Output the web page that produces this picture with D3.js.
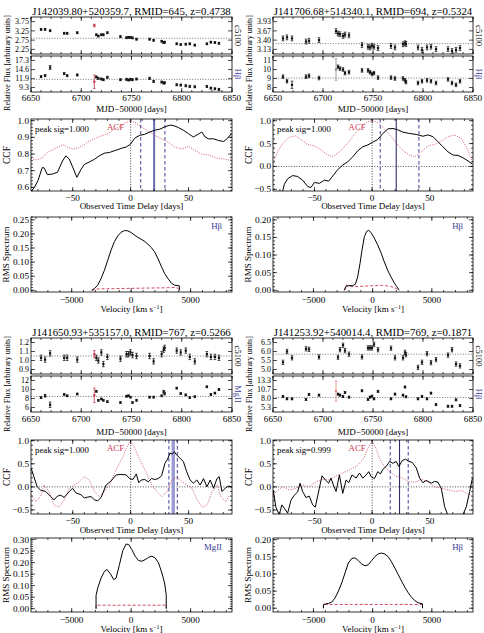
<!DOCTYPE html>
<html><head><meta charset="utf-8">
<script src="https://cdn.jsdelivr.net/npm/d3@7"></script>
<style>
body{margin:0;background:#fff}
svg{display:block}
text{font-family:"Liberation Serif","Times New Roman",serif;fill:#000}
</style></head>
<body><svg id="c" width="484" height="633"></svg>
<script>
// ---------------- DATA ----------------
const epochs=[6660,6664,6669,6683,6686,6696,6715,6717,6720,6722,6726,6739,6745,6747,6749,6751,6755,6768,6772,6780,6782,6783,6795,6799,6804,6808,6813,6825,6829,6833,6837];
const mjdTicks=[6650,6700,6750,6800,6850];

// Quadrant A : RMID 645
const aTitle="J142039.80+520359.7, RMID=645, z=0.4738";
const aContTicks=[2.25,2.75,3.25,3.75], aContLabels=["2.25","2.75","3.25","3.75"];
const aCont=[3.33,3.33,3.26,3.12,3.12,3.15,3.04,2.97,3.04,3.04,3.15,2.94,2.88,2.90,2.90,2.87,2.80,2.80,2.74,2.69,2.62,2.64,2.55,2.51,2.53,2.55,2.48,2.55,2.64,2.62,2.58];
const aContErr=[0.05,0.05,0.05,0.05,0.05,0.05,0.05,0.05,0.05,0.05,0.05,0.05,0.05,0.05,0.05,0.05,0.05,0.05,0.05,0.05,0.05,0.05,0.05,0.05,0.05,0.05,0.05,0.05,0.05,0.05,0.05];
const aContSpecial=[6713,3.54,0.07];
const aContMean=2.85;
const aLineTicks=[9.3,11.9,14.6,17.3], aLineLabels=["9.3","11.9","14.6","17.3"];
const aLine=[12.5,12.8,15.2,13.4,12.8,13.0,12.4,12.0,11.8,11.6,12.3,11.6,11.7,11.5,11.7,11.6,11.8,12.0,11.1,10.9,10.6,10.7,10.1,10.0,9.8,9.6,9.5,9.6,9.1,8.9,8.7];
const aLineErr=[0.3,0.3,0.6,0.3,0.3,0.3,0.3,0.3,0.3,0.3,0.3,0.3,0.3,0.3,0.3,0.3,0.3,0.3,0.3,0.3,0.3,0.3,0.3,0.3,0.3,0.3,0.3,0.3,0.3,0.3,0.3];
const aLineSpecial=[6713,11.0,2.0];
const aLineMean=11.7;
const aCcfLag=[-86,-83,-80,-78.3,-76.2,-74.5,-71.9,-67.5,-63.2,-58.8,-55.9,-53,-50.1,-46.4,-42.9,-40,-35.7,-31.3,-27,-22.6,-18.3,-13.9,-11,-8.1,-3.8,0,3.5,7.8,12.2,16.5,20.9,25.2,29.6,33.9,36.8,41.2,45.5,49.9,54.2,58.6,61.4,64.3,67.2,71.6,75.9,80.3,83.2,87];
const aCcf=[0.575,0.60,0.64,0.676,0.72,0.715,0.676,0.68,0.69,0.758,0.789,0.77,0.723,0.66,0.707,0.737,0.752,0.768,0.789,0.805,0.809,0.82,0.826,0.834,0.842,0.86,0.895,0.912,0.918,0.932,0.943,0.949,0.963,0.973,0.971,0.959,0.943,0.922,0.902,0.92,0.932,0.902,0.891,0.891,0.881,0.875,0.891,0.922];
const aAcfLag=[-86,-80.6,-76,-71.9,-66.1,-60.3,-57.4,-54.5,-50.1,-45.8,-41.4,-37.1,-31.3,-25.5,-19.7,-13.9,-9.6,-5.2,0,4.9,9.3,15.1,20.9,26.7,32.5,38.3,44.1,49.9,55.7,61.4,67.2,73,78.8,84.6,87];
const aAcf=[0.772,0.764,0.78,0.81,0.83,0.85,0.855,0.84,0.83,0.835,0.85,0.871,0.891,0.908,0.922,0.949,0.963,0.984,1.0,0.984,0.963,0.936,0.912,0.891,0.871,0.84,0.83,0.846,0.82,0.8,0.795,0.778,0.772,0.764,0.768];
const aLag=[8.7,20.3,29.6];
const aRmsVel=[-3315,-3090,-2809,-2528,-2247,-1966,-1685,-1404,-1124,-843,-562,-281,0,281,562,843,1124,1404,1685,1966,2247,2528,2809,3090,3371,3652,3933,4050,4060];
const aRms=[0,0.006,0.018,0.042,0.071,0.107,0.143,0.173,0.193,0.206,0.212,0.211,0.205,0.196,0.188,0.181,0.174,0.164,0.152,0.137,0.113,0.086,0.06,0.042,0.026,0.018,0.017,0.016,0];
const aRmsErrVel=[-3315,-2809,-1500,0,1500,3000,3652,3933,4060];
const aRmsErr=[0,0.005,0.006,0.007,0.008,0.009,0.010,0.008,0];

// Quadrant B : RMID 694
const bTitle="J141706.68+514340.1, RMID=694, z=0.5324";
const bContTicks=[3.133,3.40,3.667,3.933], bContLabels=["3.13","3.40","3.67","3.93"];
const bCont=[3.45,3.48,3.45,3.36,3.38,3.40,3.59,3.57,3.52,3.56,3.54,3.26,3.21,3.19,3.24,3.21,3.17,3.23,3.19,3.28,3.31,3.29,3.19,3.12,3.19,3.21,3.14,3.14,3.09,3.12,3.17];
const bContErr=[0.07,0.07,0.07,0.07,0.07,0.07,0.07,0.07,0.07,0.07,0.07,0.07,0.07,0.07,0.07,0.07,0.07,0.07,0.07,0.07,0.07,0.07,0.07,0.07,0.07,0.07,0.07,0.07,0.07,0.07,0.07];
const bContSpecial=[6713,3.66,0.07];
const bContMean=3.30;
const bLineTicks=[8,9,10,11], bLineLabels=["8","9","10","11"];
const bLine=[9.2,8.7,8.3,9.2,9.3,9.05,10.3,10.1,10.0,9.6,9.7,9.9,9.9,9.7,9.5,9.6,9.1,9.1,9.0,9.0,8.8,8.6,8.5,8.7,8.8,8.7,8.5,8.9,8.5,8.3,8.7];
const bLineErr=[0.2,0.2,0.4,0.2,0.2,0.2,0.2,0.2,0.2,0.2,0.2,0.2,0.2,0.2,0.2,0.2,0.2,0.2,0.2,0.2,0.2,0.2,0.2,0.2,0.2,0.2,0.2,0.2,0.2,0.2,0.2];
const bLineSpecial=[6713,10.0,1.2];
const bLineMean=9.05;
const bCcfLag=[-78.3,-76.2,-73.3,-69,-64.6,-60.3,-55.9,-53,-50.1,-45.8,-41.4,-37.6,-34.2,-29.9,-25.5,-21.2,-16.8,-12.5,-8.1,-3.8,0.6,4.9,9.3,13.6,18,22.3,26.7,32.5,38.3,44.1,48.4,52.8,57.1,61.4,65.8,70.1,74.5,78.8,83.2,87];
const bCcf=[-0.61,-0.39,-0.27,-0.2,-0.22,-0.3,-0.44,-0.46,-0.35,-0.37,-0.30,-0.32,-0.21,-0.07,0.03,0.10,0.21,0.34,0.43,0.47,0.53,0.59,0.72,0.82,0.83,0.80,0.75,0.72,0.70,0.66,0.69,0.65,0.54,0.43,0.32,0.25,0.24,0.19,0.12,0.05];
const bAcfLag=[-86,-82,-77.7,-71.9,-66.1,-61.7,-55.9,-50.1,-44.3,-38.6,-34.2,-28.4,-22.6,-16.8,-11,-5.2,0,4.9,10.7,16.5,22.3,28.1,32.5,36.8,42.6,48.4,54.2,60,65.8,71.6,77.4,81.7,87.5];
const bAcf=[0.07,0.32,0.50,0.64,0.67,0.58,0.48,0.45,0.36,0.25,0.21,0.32,0.47,0.65,0.82,0.96,1.0,0.96,0.82,0.65,0.47,0.32,0.25,0.21,0.32,0.45,0.48,0.55,0.65,0.69,0.61,0.43,0.07];
const bLag=[7,20.9,40.6];
const bRmsVel=[-2388,-2247,-2022,-1685,-1461,-1264,-1067,-899,-702,-506,-337,-140,140,421,702,983,1264,1545,1826,2022,2247];
const bRms=[0,0.011,0.013,0.013,0.017,0.038,0.076,0.114,0.152,0.167,0.170,0.164,0.148,0.129,0.107,0.081,0.057,0.038,0.021,0.011,0];
const bRmsErrVel=[-2388,-2247,-1800,-1000,0,850,1500,2000,2247];
const bRmsErr=[0,0.015,0.010,0.011,0.013,0.014,0.011,0.005,0];

// Quadrant C : RMID 767
const cTitle="J141650.93+535157.0, RMID=767, z=0.5266";
const cContTicks=[0.9,1.0,1.1,1.2], cContLabels=["0.9","1.0","1.1","1.2"];
const cCont=[1.03,1.01,1.08,1.03,1.03,1.01,1.03,1.00,1.09,0.96,1.04,1.02,1.07,1.07,1.09,1.06,1.05,1.05,0.99,1.07,1.12,1.14,1.11,1.09,1.11,1.04,0.99,1.07,1.04,1.04,1.03];
const cContErr=[0.03,0.03,0.03,0.03,0.03,0.03,0.03,0.03,0.03,0.03,0.03,0.03,0.03,0.03,0.03,0.03,0.03,0.03,0.03,0.03,0.03,0.03,0.03,0.03,0.03,0.03,0.03,0.03,0.03,0.03,0.03];
const cContSpecial=[6713,1.07,0.04];
const cContMean=1.05;
const cLineTicks=[6,8,10,12], cLineLabels=["6","8","10","12"];
const cLine=[8.2,8.6,6.6,8.9,8.6,9.0,9.6,7.6,7.9,7.6,7.3,7.1,8.5,8.6,8.3,7.1,7.6,8.3,8.3,8.6,9.5,9.1,10.3,9.1,8.8,8.2,8.4,10.6,8.9,9.2,10.0];
const cLineErr=[0.2,0.3,0.6,0.2,0.2,0.2,0.2,0.2,0.2,0.2,0.2,0.2,0.2,0.2,0.2,0.2,0.2,0.2,0.2,0.2,0.3,0.3,0.2,0.2,0.2,0.2,0.2,0.2,0.2,0.2,0.2];
const cLineSpecial=[6713,8.7,1.6];
const cLineMean=8.45;
const cCcfLag=[-85.8,-83.5,-80.6,-77.7,-73.3,-69,-66.1,-63.2,-60.3,-57.4,-53,-50.1,-47.2,-42.9,-40,-37.1,-34.2,-31.3,-28.4,-25.5,-21.2,-16.8,-12.5,-8.1,-3.8,-0.9,2,4.9,7,9.3,12.2,15.1,18,20.9,23.8,26.7,29.6,31.9,33.9,35.9,37.7,39.7,42.6,45.5,48.4,51.3,54.2,57.1,60,62.9,65.8,68.7,71.6,74.5,76.5,78.8,81.7,84.6,87];
const cCcf=[0.40,0.22,0.0,-0.07,-0.10,-0.21,-0.28,-0.20,-0.18,-0.23,-0.10,-0.03,-0.13,-0.17,-0.24,-0.22,-0.21,-0.28,-0.30,-0.23,0.04,0.13,0.26,0.27,0.26,0.18,0.16,0.28,0.09,0.15,0.16,0.11,0.18,0.16,0.18,0.24,0.51,0.60,0.73,0.71,0.76,0.69,0.62,0.55,0.33,0.15,0.08,0.15,0.04,0.18,0.0,0.15,-0.03,0.18,0.22,-0.10,-0.03,0.02,0.0];
const cAcfLag=[-85.8,-82,-77.7,-74.8,-70.4,-66.1,-61.7,-57.4,-53,-48.7,-44.3,-40,-35.7,-31.3,-27,-22.6,-18.3,-13.9,-9.6,-6.7,-3.8,0,3.8,6.7,9.6,13.9,18.3,22.6,27,31.3,35.7,40,44.3,48.7,53,57.4,61.7,66.1,70.4,74.8,77.7,82,85.8];
const cAcf=[-0.17,-0.32,-0.21,0.04,-0.10,-0.39,-0.44,-0.28,-0.03,0.04,0.11,0.22,0.15,-0.10,-0.21,-0.10,0.04,0.29,0.51,0.65,0.83,1.0,0.83,0.65,0.51,0.29,0.04,-0.10,-0.21,-0.10,0.15,0.22,0.11,0.04,-0.03,-0.28,-0.44,-0.39,-0.10,0.04,-0.21,-0.32,-0.17];
const cLag=[33,36.8,40.3];
const cRmsVel=[-2950,-2950,-2809,-2528,-2247,-2022,-1742,-1461,-1264,-983,-702,-421,-197,56,337,618,899,1180,1461,1742,2022,2303,2584,2809,2950,2950];
const cRms=[0,0.058,0.09,0.133,0.162,0.170,0.151,0.126,0.133,0.191,0.252,0.281,0.278,0.257,0.228,0.209,0.206,0.213,0.223,0.228,0.22,0.199,0.155,0.112,0.061,0];
const cRmsErrVel=[-2950,-2950,-1500,0,1500,2950,2950];
const cRmsErr=[0,0.015,0.015,0.015,0.015,0.015,0];

// Quadrant D : RMID 769
const dTitle="J141253.92+540014.4, RMID=769, z=0.1871";
const dContTicks=[5.0,5.5,6.0,6.5], dContLabels=["5.0","5.5","6.0","6.5"];
const dCont=[5.40,6.0,5.65,6.15,6.12,5.70,5.68,6.1,6.35,6.05,5.85,5.70,6.2,6.2,6.2,6.4,6.1,6.18,5.65,5.65,5.95,5.82,5.12,5.40,5.88,5.38,5.55,5.80,6.1,5.30,5.20];
const dContErr=[0.12,0.12,0.12,0.12,0.12,0.12,0.12,0.12,0.12,0.12,0.12,0.12,0.12,0.12,0.12,0.12,0.12,0.12,0.12,0.12,0.12,0.12,0.12,0.12,0.12,0.12,0.12,0.12,0.12,0.12,0.12];
const dContSpecial=null;
const dContMean=5.85;
const dLineTicks=[5.333,8.0,10.667,13.333], dLineLabels=["5.3","8.0","10.7","13.3"];
const dLine=[8.6,7.9,7.9,7.7,9.2,9.0,9.3,9.0,8.6,9.8,8.4,10.3,7.7,8.4,8.7,7.9,10.1,7.9,9.3,9.0,11.4,8.5,7.9,8.6,7.9,9.6,6.2,5.7,5.7,7.6,5.9];
const dLineErr=[0.3,0.3,0.3,0.3,0.3,0.3,0.3,0.3,0.3,0.3,0.3,0.3,0.3,0.3,0.3,0.3,0.3,0.3,0.3,0.3,0.3,0.3,0.3,0.3,0.3,0.3,0.3,0.3,0.3,0.3,0.3];
const dLineSpecial=[6713,10.2,3.0];
const dLineMean=8.3;
const dCcfLag=[-85.8,-83.5,-80.6,-78.3,-76.2,-73.3,-70.4,-67.5,-64.6,-62.6,-60.3,-57.4,-54.5,-51.6,-49.3,-45.8,-43.5,-40.6,-37.7,-35.7,-33.6,-31.3,-28.4,-25.5,-22.6,-20.3,-17.4,-13.9,-11,-8.1,-5.2,-2.9,-0.9,2,4.9,7.2,9.3,12.2,15.1,18,20.9,23.2,26.1,29,31.9,34.8,38.3,41.2,44.1,47,51.3,54.2,57.1,60,62.9,65.8,70,75,78.8,81.7,84.6,87];
const dCcf=[-0.07,-0.44,-0.6,-0.39,-0.46,-0.57,-0.29,-0.18,-0.11,0.08,-0.10,-0.23,-0.2,-0.39,-0.44,-0.03,0.24,0.15,0.08,0.19,0.04,-0.10,0.26,-0.14,0.15,0.09,0.26,0.19,0.30,0.19,0.26,0.33,0.22,0.18,0.33,0.28,0.38,0.44,0.55,0.51,0.55,0.44,0.57,0.60,0.55,0.53,0.41,0.19,0.09,0.14,0.08,0.12,0.10,-0.03,-0.43,-0.62,-0.65,-0.65,-0.6,-0.43,-0.10,0.19];
const dAcfLag=[-85.8,-82,-77.7,-71.9,-66.1,-60.3,-54.5,-48.7,-42.9,-37.1,-31.3,-25.5,-19.7,-13.9,-9.6,-6.7,-3.8,0,3.8,6.7,9.6,13.9,19.7,25.5,31.3,37.1,42.9,48.7,54.5,60.3,66.1,71.9,77.7,82,85.8];
const dAcf=[-0.17,-0.07,0.0,-0.07,-0.03,0.04,0.0,0.11,0.16,0.15,0.24,0.30,0.37,0.44,0.55,0.65,0.83,1.0,0.80,0.60,0.48,0.36,0.24,0.20,0.12,0.10,0.17,0.10,0.0,-0.03,-0.07,-0.10,-0.08,-0.14,-0.18];
const dLag=[15.7,23.8,31.3];
const dRmsVel=[-4157,-4157,-3736,-3455,-3174,-2893,-2612,-2331,-2050,-1770,-1489,-1208,-927,-646,-365,-84,197,478,759,1040,1320,1601,1882,2163,2444,2725,3006,3287,3568,3848,4213,4213];
const dRms=[0,0.011,0.014,0.018,0.03,0.05,0.074,0.103,0.132,0.145,0.147,0.139,0.129,0.124,0.127,0.139,0.151,0.159,0.161,0.158,0.15,0.135,0.117,0.098,0.079,0.061,0.045,0.032,0.022,0.016,0.013,0];
const dRmsErrVel=[-4157,-4157,0,4213,4213];
const dRmsErr=[0,0.011,0.011,0.011,0];

// ---------------- LAYOUT ----------------
const svg=d3.select("#c");
const RED="#c8384e", NAVY="#2b2b8c", LINECOL="#3b3b96";
const FS=9.2, FSLC=8;
const rowTop={title:14.5,lc1:[17,54],lc2:[56,92],lcTick:101,lcLab:112,ccf:[119,191],ccfTick:200.5,ccfLab:209,rms:[217,292],rmsTick:302.5,rmsLab:312};
const rowBot={title:335.5,lc1:[338,374],lc2:[376,412],lcTick:422,lcLab:435,ccf:[440,514],ccfTick:523.5,ccfLab:533,rms:[538,612],rmsTick:622.5,rmsLab:632};
let clipN=0;
function clip(g,x0,y0,x1,y1){const id="cp"+(clipN++);g.append("clipPath").attr("id",id).append("rect").attr("x",x0).attr("y",y0).attr("width",x1-x0).attr("height",y1-y0);return "url(#"+id+")";}
function frameTicks(g,x,y,xMaj,xMin,yMaj,yMin){
  const [x0,x1]=x.range(),[y1,y0]=y.range();
  g.append("rect").attr("x",x0).attr("y",y0).attr("width",x1-x0).attr("height",y1-y0).attr("fill","none").attr("stroke","#000").attr("stroke-width",0.8);
  const t=g.append("g").attr("stroke","#000").attr("stroke-width",0.7);
  const xd=x.domain(),yd=y.domain();
  const inX=v=>v>=Math.min(...xd)&&v<=Math.max(...xd), inY=v=>v>=Math.min(...yd)&&v<=Math.max(...yd);
  [[xMaj,4],[xMin,2]].forEach(([vs,L])=>vs.filter(inX).forEach(v=>{const p=x(v);t.append("line").attr("x1",p).attr("x2",p).attr("y1",y1).attr("y2",y1-L);t.append("line").attr("x1",p).attr("x2",p).attr("y1",y0).attr("y2",y0+L);}));
  [[yMaj,4],[yMin,2]].forEach(([vs,L])=>vs.filter(inY).forEach(v=>{const p=y(v);t.append("line").attr("y1",p).attr("y2",p).attr("x1",x0).attr("x2",x0+L);t.append("line").attr("y1",p).attr("y2",p).attr("x1",x1).attr("x2",x1-L);}));
}
function xLabels(g,x,vals,fmt,yb){vals.forEach(v=>g.append("text").attr("x",x(v)).attr("y",yb).attr("text-anchor","middle").style("font-size",FS+"px").text(fmt(v)));}
function yLabels(g,y,vals,labs,xr,fs){vals.forEach((v,i)=>g.append("text").attr("x",xr).attr("y",y(v)).attr("dy","0.33em").attr("text-anchor","end").style("font-size",(fs||FS)+"px").text(labs[i]));}
function vText(g,x,y,txt,size,rot,col){g.append("text").attr("transform",`translate(${x},${y}) rotate(${rot})`).attr("text-anchor","middle").attr("dy","0.35em").style("font-size",size+"px").style("fill",col||"#000").text(txt);}
const mfmt=v=>v<0?"\u2212"+Math.abs(v):String(v);
const range=(a,b,s)=>d3.range(a,b+s/2,s);

function lcPanel(g,x,y,ticks,labels,vals,errs,special,mean,rLab,rCol){
  const [x0,x1]=x.range(),[y1,y0]=y.range();
  frameTicks(g,x,y,mjdTicks,range(6650,6850,10),ticks,[]);
  yLabels(g,y,ticks,labels,x0-2,FSLC);
  const c=g.append("g").attr("clip-path",clip(g,x0,y0,x1,y1));
  c.append("line").attr("x1",x0).attr("x2",x1).attr("y1",y(mean)).attr("y2",y(mean)).attr("stroke","#555").attr("stroke-width",0.8).attr("stroke-dasharray","1,1.6");
  const pts=epochs.map((m,i)=>({m,v:vals[i],e:errs[i],col:"#111"}));
  if(special) pts.push({m:special[0],v:special[1],e:special[2],col:special[3]||RED});
  pts.forEach(p=>{
    const px=x(p.m);
    c.append("line").attr("x1",px).attr("x2",px).attr("y1",y(p.v-p.e)).attr("y2",y(p.v+p.e)).attr("stroke",p.col).attr("stroke-width",0.8);
    [p.v-p.e,p.v+p.e].forEach(v=>c.append("line").attr("x1",px-1.3).attr("x2",px+1.3).attr("y1",y(v)).attr("y2",y(v)).attr("stroke",p.col).attr("stroke-width",0.7));
    c.append("rect").attr("x",px-1.1).attr("y",y(p.v)-1.1).attr("width",2.2).attr("height",2.2).attr("fill",p.col);
  });
  vText(g,x1+6,(y0+y1)/2,rLab,8.5,90,rCol);
}

function drawQuad(q){
  const g=svg.append("g"), R=q.row, xl=q.xl, xr=q.xr;
  g.append("text").attr("x",(xl+xr)/2).attr("y",R.title).attr("text-anchor","middle").style("font-size","10.8px").text(q.title);
  const xm=d3.scaleLinear().domain([6650,6850]).range([xl,xr]);
  const y1=d3.scaleLinear().domain(q.cDom).range([R.lc1[1],R.lc1[0]]);
  const y2=d3.scaleLinear().domain(q.lDom).range([R.lc2[1],R.lc2[0]]);
  lcPanel(g,xm,y1,q.cT,q.cL,q.cont,q.contErr,q.cSp,q.cMean,"c5100","#000");
  lcPanel(g,xm,y2,q.lT,q.lL,q.line,q.lineErr,q.lSp,q.lMean,q.lineName,LINECOL);
  xLabels(g,xm,mjdTicks,String,R.lcTick);
  g.append("text").attr("x",(xl+xr)/2).attr("y",R.lcLab).attr("text-anchor","middle").style("font-size","9px").text("MJD\u221250000 [days]");
  vText(g,xl-24,R.lc1[0]+46,"Relative Flux [arbitrary units]",8,-90);

  // CCF
  const xc=d3.scaleLinear().domain([-86,87.5]).range([xl,xr]);
  const yc=d3.scaleLinear().domain(q.ccfDom).range([R.ccf[1],R.ccf[0]]);
  const cc=g.append("g").attr("clip-path",clip(g,xl,R.ccf[0],xr,R.ccf[1]));
  const yd=q.ccfDom;
  if(yd[0]<0) cc.append("line").attr("x1",xl).attr("x2",xr).attr("y1",yc(0)).attr("y2",yc(0)).attr("stroke","#000").attr("stroke-width",0.7).attr("stroke-dasharray","1,1.6");
  cc.append("line").attr("x1",xc(0)).attr("x2",xc(0)).attr("y1",R.ccf[0]).attr("y2",R.ccf[1]).attr("stroke","#000").attr("stroke-width",0.7).attr("stroke-dasharray","1,1.6");
  [q.lag[0],q.lag[2]].forEach(l=>cc.append("line").attr("x1",xc(l)).attr("x2",xc(l)).attr("y1",R.ccf[0]).attr("y2",R.ccf[1]).attr("stroke",NAVY).attr("stroke-width",0.9).attr("stroke-dasharray","3.5,2.5"));
  cc.append("line").attr("x1",xc(q.lag[1])).attr("x2",xc(q.lag[1])).attr("y1",R.ccf[0]).attr("y2",R.ccf[1]).attr("stroke",q.lagCol).attr("stroke-width",q.lagW);
  const ln=d3.line().x(d=>xc(d[0])).y(d=>yc(d[1]));
  cc.append("path").attr("d",ln(d3.zip(q.acfLag,q.acf))).attr("fill","none").attr("stroke",RED).attr("stroke-width",0.8).attr("stroke-dasharray","1,1.3");
  cc.append("path").attr("d",ln(d3.zip(q.ccfLag,q.ccf))).attr("fill","none").attr("stroke","#000").attr("stroke-width",1);
  frameTicks(g,xc,yc,[-50,0,50],range(-80,80,10),q.ccfT,q.ccfMin);
  yLabels(g,yc,q.ccfT,q.ccfL,xl-2);
  xLabels(g,xc,[-50,0,50],mfmt,R.ccfTick);
  g.append("text").attr("x",(xl+xr)/2).attr("y",R.ccfLab).attr("text-anchor","middle").style("font-size","9px").text("Observed Time Delay [days]");
  vText(g,xl-24,(R.ccf[0]+R.ccf[1])/2,"CCF",9.5,-90);
  g.append("text").attr("x",xl+4).attr("y",R.ccf[0]+13).style("font-size","8.8px").text(q.sig);
  g.append("text").attr("x",xc(-13)).attr("y",R.ccf[0]+11).attr("text-anchor","middle").style("font-size","8.8px").style("fill",RED).text("ACF");

  // RMS
  const xv=d3.scaleLinear().domain([-8420,8480]).range([xl,xr]);
  const yv=d3.scaleLinear().domain(q.rmsDom).range([R.rms[1],R.rms[0]]);
  const rc=g.append("g").attr("clip-path",clip(g,xl,R.rms[0],xr,R.rms[1]));
  const lv=d3.line().x(d=>xv(d[0])).y(d=>yv(d[1]));
  rc.append("path").attr("d",lv(d3.zip(q.rmsErrVel,q.rmsErr))).attr("fill","none").attr("stroke",RED).attr("stroke-width",0.9).attr("stroke-dasharray","3,2");
  rc.append("path").attr("d",lv(d3.zip(q.rmsVel,q.rms))).attr("fill","none").attr("stroke","#000").attr("stroke-width",1);
  frameTicks(g,xv,yv,[-5000,0,5000],range(-8000,8000,1000),q.rmsT,range(0,0.3,0.01));
  yLabels(g,yv,q.rmsT,q.rmsT.map(v=>v.toFixed(2)),xl-2);
  xLabels(g,xv,[-5000,0,5000],mfmt,R.rmsTick);
  const vl=g.append("text").attr("x",(xl+xr)/2).attr("y",R.rmsLab).attr("text-anchor","middle").style("font-size","9px");
  vl.append("tspan").text("Velocity [km s");
  vl.append("tspan").attr("dy","-3").style("font-size","6px").text("\u22121");
  vl.append("tspan").attr("dy","3").text("]");
  vText(g,xl-25,(R.rms[0]+R.rms[1])/2,"RMS Spectrum",9,-90);
  g.append("text").attr("x",xr-10).attr("y",R.rms[0]+12).attr("text-anchor","end").style("font-size","8.8px").style("fill",LINECOL).text(q.lineName);
}

const ccfT1=[0.6,0.7,0.8,0.9,1.0], ccfT2=[-0.5,0.0,0.5,1.0];
const ccfL2=["\u22120.5","0.0","0.5","1.0"];
const rmsT25=[0,0.05,0.10,0.15,0.20,0.25], rmsT20=[0,0.05,0.10,0.15,0.20], rmsT30=[0,0.05,0.10,0.15,0.20,0.25,0.30];

drawQuad({row:rowTop,xl:31,xr:232,title:aTitle,cDom:[2.0,4.0],cT:aContTicks,cL:aContLabels,cont:aCont,contErr:aContErr,cSp:aContSpecial,cMean:aContMean,
  lDom:[7.95,18.62],lT:aLineTicks,lL:aLineLabels,line:aLine,lineErr:aLineErr,lSp:aLineSpecial,lMean:aLineMean,lineName:"H\u03b2",
  ccfDom:[0.578,1.01],ccfT:ccfT1,ccfL:ccfT1.map(v=>v.toFixed(1)),ccfMin:range(0.58,1.0,0.02),ccfLag:aCcfLag,ccf:aCcf,acfLag:aAcfLag,acf:aAcf,lag:aLag,lagCol:"#6a6ab2",lagW:2,sig:"peak sig=1.000",
  rmsDom:[-0.006,0.26],rmsT:rmsT25,rmsVel:aRmsVel,rms:aRms,rmsErrVel:aRmsErrVel,rmsErr:aRmsErr});
drawQuad({row:rowTop,xl:273,xr:473,title:bTitle,cDom:[3.0,4.067],cT:bContTicks,cL:bContLabels,cont:bCont,contErr:bContErr,cSp:[...bContSpecial,"#111"],cMean:bContMean,
  lDom:[7.5,11.5],lT:bLineTicks,lL:bLineLabels,line:bLine,lineErr:bLineErr,lSp:[...bLineSpecial,"#8a8a8a"],lMean:bLineMean,lineName:"H\u03b2",
  ccfDom:[-0.537,1.037],ccfT:ccfT2,ccfL:ccfL2,ccfMin:range(-0.5,1.0,0.1),ccfLag:bCcfLag,ccf:bCcf,acfLag:bAcfLag,acf:bAcf,lag:bLag,lagCol:"#1c1c5c",lagW:1,sig:"peak sig=1.000",
  rmsDom:[-0.005,0.208],rmsT:rmsT20,rmsVel:bRmsVel,rms:bRms,rmsErrVel:bRmsErrVel,rmsErr:bRmsErr});
drawQuad({row:rowBot,xl:31,xr:232,title:cTitle,cDom:[0.85,1.25],cT:cContTicks,cL:cContLabels,cont:cCont,contErr:cContErr,cSp:cContSpecial,cMean:cContMean,
  lDom:[5,13],lT:cLineTicks,lL:cLineLabels,line:cLine,lineErr:cLineErr,lSp:cLineSpecial,lMean:cLineMean,lineName:"MgII",
  ccfDom:[-0.587,1.015],ccfT:ccfT2,ccfL:ccfL2,ccfMin:range(-0.5,1.0,0.1),ccfLag:cCcfLag,ccf:cCcf,acfLag:cAcfLag,acf:cAcf,lag:cLag,lagCol:"#9c9cd4",lagW:3.5,sig:"peak sig=1.000",
  rmsDom:[-0.0145,0.307],rmsT:rmsT30,rmsVel:cRmsVel,rms:cRms,rmsErrVel:cRmsErrVel,rmsErr:cRmsErr});
drawQuad({row:rowBot,xl:273,xr:473,title:dTitle,cDom:[4.75,6.75],cT:dContTicks,cL:dContLabels,cont:dCont,contErr:dContErr,cSp:dContSpecial,cMean:dContMean,
  lDom:[4.0,14.667],lT:dLineTicks,lL:dLineLabels,line:dLine,lineErr:dLineErr,lSp:[...dLineSpecial,"#e08888"],lMean:dLineMean,lineName:"H\u03b2",
  ccfDom:[-0.587,1.015],ccfT:ccfT2,ccfL:ccfL2,ccfMin:range(-0.5,1.0,0.1),ccfLag:dCcfLag,ccf:dCcf,acfLag:dAcfLag,acf:dAcf,lag:dLag,lagCol:"#1c1c5c",lagW:1,sig:"peak sig=0.999",
  rmsDom:[-0.011,0.205],rmsT:rmsT20,rmsVel:dRmsVel,rms:dRms,rmsErrVel:dRmsErrVel,rmsErr:dRmsErr});
</script></body></html>
